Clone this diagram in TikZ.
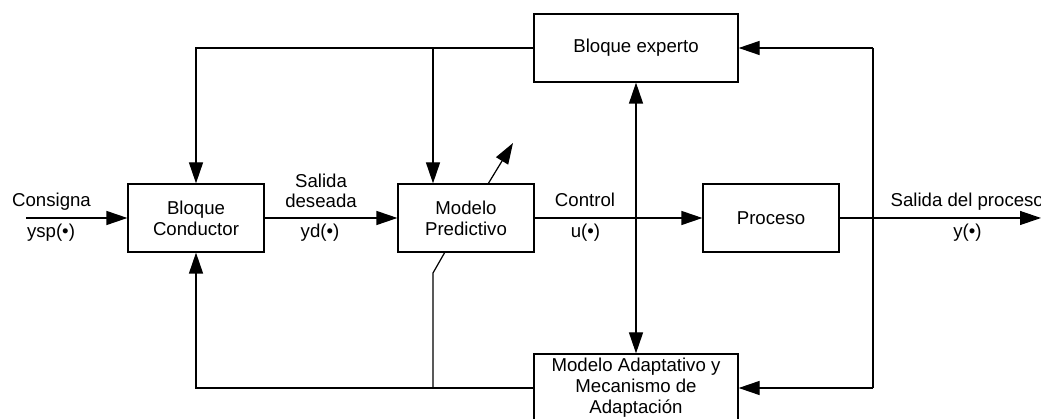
\documentclass[tikz,border=0pt]{standalone}
\usepackage{fontspec}
\setmainfont{Liberation Sans}
\usetikzlibrary{arrows.meta}

\begin{document}
\begin{tikzpicture}[
  line width=0.7pt,
  font=\fontsize{10.6}{11.9}\selectfont,
  >={Triangle[length=0.42cm,width=0.28cm]},
  bloque/.style={draw, minimum width=2.72cm, minimum height=1.36cm, align=center, inner sep=0pt},
  ancho/.style={bloque, minimum width=4.08cm},
  etiq/.style={inner sep=0pt, anchor=base, align=center}]
  \useasboundingbox (0,0) rectangle (20.82,8.38);
  \node[bloque] (cond) at (3.92,4.02) {Bloque\\Conductor};
  \node[bloque] (pred) at (9.32,4.02) {Modelo\\Predictivo};
  \node[bloque] (proc) at (15.42,4.02) {Proceso};
  \node[ancho] (exp) at (12.72,7.42) {Bloque experto};
  \node[ancho] (ada) at (12.72,0.62) {Modelo Adaptativo y\\Mecanismo de\\Adaptaci\'on};
  % Lazo principal
  \coordinate (in) at (0.52,4.02);
  \coordinate (out) at (20.82,4.02);
  \draw[->] (in) -- (cond);
  \draw[->] (cond) -- (pred);
  \draw[->] (pred) -- (proc);
  \draw[->] (proc) -- (out);
  % Realimentaciones
  \coordinate (tl) at (3.92,7.42);
  \coordinate (tm) at (8.66,7.42);
  \coordinate (tr) at (17.46,7.42);
  \coordinate (bl) at (3.92,0.62);
  \coordinate (bm) at (8.66,0.62);
  \coordinate (br) at (17.46,0.62);
  \coordinate (kink) at (8.66,2.92);
  \coordinate (adj) at (8.90,3.34);
  \coordinate (p1) at (9.76,4.70);
  \coordinate (p2) at (10.26,5.52);
  \draw[->] (exp.west) -- (tl) -- (cond.north);
  \draw[->] (tm) -- (tm |- pred.north);
  \draw[->] (ada.west) -- (bl) -- (cond.south);
  \draw (bm) -- (kink) -- (adj);
  \draw[->] (p1) -- (p2);
  \draw[<->] (exp.south) -- (ada.north);
  \draw (tr) -- (br);
  \draw[->] (tr) -- (exp.east);
  \draw[->] (br) -- (ada.east);
  % Etiquetas
  \node[etiq] (consigna) at (1.03,4.24) {Consigna};
  \node[etiq] (ysp) at (1.02,3.62) {ysp(•)};
  \node[etiq] (deseada) at (6.42,4.22) {Salida\\deseada};
  \node[etiq] (yd) at (6.40,3.62) {yd(•)};
  \node[etiq] (control) at (11.70,4.24) {Control};
  \node[etiq] (u) at (11.71,3.62) {u(•)};
  \node[etiq, anchor=base west] (salida) at (17.80,4.24) {Salida del proceso};
  \node[etiq] (y) at (19.35,3.62) {y(•)};
\end{tikzpicture}
\end{document}
